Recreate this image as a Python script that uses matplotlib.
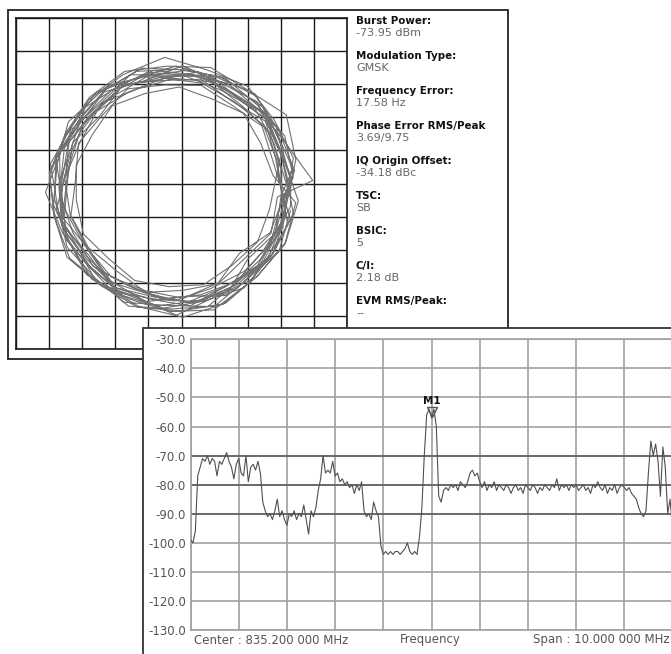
import numpy as np
import matplotlib
matplotlib.use("Agg")
import matplotlib.pyplot as plt
from matplotlib.patches import Rectangle

# ---------------- data ----------------
# measurement summary of the IQ (constellation) screen
meas_labels = ["Burst Power:", "Modulation Type:", "Frequency Error:",
               "Phase Error RMS/Peak", "IQ Origin Offset:", "TSC:", "BSIC:",
               "C/I:", "EVM RMS/Peak:"]
meas_values = ["-73.95 dBm", "GMSK", "17.58 Hz", "3.69/9.75", "-34.18 dBc",
               "SB", "5", "2.18 dB", "--"]

# IQ trace: loops around the origin (grid divisions), vertex every 20 deg
iq_center = (-0.23, -0.13)
loop_step_deg = 20
loop_angle_offsets = [0, 10, 5, 15, 3, 13, 7, 17, 2, 15, 8, 18, 4, 14, 11, 6, 16, 9]
loop_radii = [
    [3.50, 3.42, 3.55, 3.38, 3.47, 3.60, 3.41, 3.36, 3.52, 3.44, 3.58, 3.40, 3.49, 3.35, 3.53, 3.46, 3.39, 3.51],
    [3.28, 3.35, 3.22, 3.40, 3.31, 3.18, 3.36, 3.29, 3.25, 3.38, 3.21, 3.33, 3.27, 3.42, 3.24, 3.30, 3.37, 3.26],
    [3.62, 3.70, 3.55, 3.66, 3.58, 3.74, 3.61, 3.52, 3.68, 3.63, 3.57, 3.72, 3.60, 3.65, 3.54, 3.69, 3.59, 3.64],
    [3.10, 3.25, 3.05, 3.20, 3.12, 3.30, 3.08, 3.18, 2.98, 3.22, 3.15, 3.05, 3.27, 3.11, 3.19, 3.02, 3.24, 3.14],
    [4.20, 3.62, 3.48, 3.55, 3.43, 3.58, 3.50, 3.46, 3.61, 3.44, 3.52, 3.47, 3.57, 3.41, 3.53, 3.49, 3.56, 3.45],
    [3.78, 4.05, 3.70, 3.80, 3.68, 3.82, 3.74, 3.66, 3.79, 3.72, 3.85, 3.69, 3.77, 3.73, 3.81, 3.67, 3.76, 3.71],
    [3.02, 2.95, 3.08, 2.92, 3.05, 2.98, 3.10, 2.94, 3.03, 2.97, 3.07, 2.91, 3.04, 2.99, 3.06, 2.93, 3.01, 2.96],
    [3.38, 3.46, 3.33, 3.50, 3.36, 3.44, 3.31, 3.47, 3.39, 3.52, 3.35, 3.42, 3.30, 3.48, 3.37, 3.45, 3.34, 3.41],
    [3.57, 3.49, 3.64, 3.52, 3.60, 3.47, 3.66, 3.54, 3.58, 3.88, 3.63, 3.51, 3.55, 3.61, 3.48, 3.59, 3.53, 3.62],
    [3.22, 3.30, 3.18, 3.27, 3.33, 3.20, 3.28, 3.15, 3.31, 3.24, 3.19, 3.29, 3.23, 3.35, 3.17, 2.80, 3.21, 3.32],
    [3.68, 3.61, 3.72, 3.63, 3.58, 3.70, 3.64, 3.76, 3.60, 3.67, 3.55, 3.71, 3.62, 3.74, 3.88, 3.66, 3.59, 3.69],
    [3.40, 3.55, 3.35, 3.58, 3.30, 3.50, 3.62, 3.33, 3.48, 3.57, 3.28, 3.52, 3.44, 3.60, 3.36, 3.54, 3.42, 3.47],
    [3.37, 3.31, 3.42, 3.28, 3.39, 3.45, 3.32, 3.36, 3.29, 3.43, 3.34, 3.40, 3.26, 3.38, 3.33, 3.41, 3.30, 3.44],
    [3.72, 3.66, 3.79, 3.70, 3.95, 3.75, 3.70, 3.63, 3.77, 3.71, 3.80, 3.65, 3.74, 3.92, 3.82, 3.67, 3.76, 3.78],
    [3.45, 3.60, 3.32, 3.55, 3.40, 3.66, 3.38, 3.58, 3.30, 3.62, 3.42, 3.70, 3.48, 3.85, 3.52, 3.64, 3.36, 3.57],
    [3.55, 3.38, 3.62, 3.47, 3.70, 3.35, 3.58, 3.44, 3.67, 3.40, 3.61, 3.50, 3.78, 3.56, 3.73, 3.42, 3.60, 3.48],
    [3.20, 3.42, 3.15, 3.38, 3.26, 3.48, 3.12, 3.35, 3.22, 3.45, 3.18, 3.40, 3.55, 3.30, 3.62, 3.10, 3.36, 3.25],
    [3.64, 3.52, 3.75, 3.58, 3.68, 3.50, 3.72, 3.60, 3.80, 3.56, 3.69, 3.62, 3.83, 3.66, 3.78, 3.54, 3.71, 3.59],
]

# spectrum screen
center_mhz = 835.2
span_mhz = 10.0
spectrum_db = [
    -99, -100, -96, -77, -74, -71, -72, -70, -73, -71,
    -72, -77, -72, -73, -71, -69, -72, -74, -78, -73,
    -71, -76, -77, -70, -79, -74, -73, -75, -72, -76,
    -86, -89, -91, -90, -92, -89, -85, -91, -89, -92,
    -94, -90, -91, -89, -92, -90, -91, -87, -92, -97,
    -89, -91, -88, -82, -78, -70, -76, -75, -76, -72,
    -77, -76, -79, -78, -80, -79, -81, -80, -83, -80,
    -82, -79, -89, -91, -90, -92, -86, -89, -91, -101,
    -104, -103, -104, -103, -104, -103, -103, -104, -103, -102,
    -100, -103, -104, -103, -104, -98, -88, -70, -56, -54,
    -57, -54, -60, -84, -86, -82, -81, -82, -80, -81,
    -80, -82, -79, -80, -81, -79, -76, -75, -77, -76,
    -79, -81, -79, -82, -80, -81, -79, -82, -80, -81,
    -82, -80, -81, -83, -81, -80, -82, -81, -83, -80,
    -81, -82, -80, -81, -83, -81, -82, -80, -81, -82,
    -80, -81, -78, -82, -80, -81, -80, -82, -80, -81,
    -80, -82, -81, -80, -82, -81, -83, -80, -81, -79,
    -81, -82, -80, -83, -81, -82, -80, -83, -81, -80,
    -81, -82, -81, -83, -84, -85, -88, -90, -91, -89,
    -76, -65, -70, -66, -72, -84, -67, -74, -90, -85,
    -95,
]
ref_levels = [-30, -40, -50, -60, -70, -80, -90, -100, -110, -120, -130]
dark_levels = [-70, -80, -90]
marker_label = "M1"
marker_freq = 835.2
marker_db = -54.9

# ---------------- figure ----------------
W, H = 671, 654
fig = plt.figure(figsize=(W / 100, H / 100), dpi=100)
fig.patch.set_facecolor("white")


def px_box(x0, y0, x1, y1):
    return [x0 / W, 1 - y1 / H, (x1 - x0) / W, (y1 - y0) / H]


# ---- top panel (constellation) ----
fig.add_artist(Rectangle((8 / W, 1 - 359 / H), (507.5 - 8) / W, (359 - 10) / H,
                         transform=fig.transFigure, facecolor="white",
                         edgecolor="#222222", lw=1.3, zorder=0.5))

ax1 = fig.add_axes(px_box(16, 18, 347, 349), zorder=1)
ax1.set_xlim(-5, 5)
ax1.set_ylim(-5, 5)
ax1.set_xticks(np.arange(-5, 6, 1))
ax1.set_yticks(np.arange(-5, 6, 1))
ax1.tick_params(length=0, labelbottom=False, labelleft=False)
ax1.grid(True, color="#1a1a1a", lw=1.0)
ax1.set_axisbelow(True)
for s in ax1.spines.values():
    s.set_color("#1a1a1a")
    s.set_linewidth(1.2)

ang_all, rad_all = [], []
for i, (off, radii) in enumerate(zip(loop_angle_offsets, loop_radii)):
    for k, r in enumerate(radii):
        ang_all.append(np.deg2rad(off + loop_step_deg * k + 360 * i))
        rad_all.append(r)
ang_all = np.array(ang_all)
rad_all = np.array(rad_all)
ax1.plot(iq_center[0] + rad_all * np.cos(ang_all),
         iq_center[1] + rad_all * np.sin(ang_all),
         color="#727272", lw=0.8, zorder=3)

for k, (lab, val) in enumerate(zip(meas_labels, meas_values)):
    y_lab = 16 + 35 * k
    fig.text(356 / W, 1 - y_lab / H, lab, ha="left", va="top",
             fontsize=7.4, fontweight="bold", color="#111111",
             family="DejaVu Sans", zorder=2)
    fig.text(356 / W, 1 - (y_lab + 12) / H, val, ha="left", va="top",
             fontsize=8, color="#666666", family="DejaVu Sans", zorder=2)

# ---- bottom panel (spectrum) ----
fig.add_artist(Rectangle((143 / W, 1 - 700 / H), (700 - 143) / W, (700 - 328) / H,
                         transform=fig.transFigure, facecolor="white",
                         edgecolor="#333333", lw=1.3, zorder=5))

ax2 = fig.add_axes(px_box(190.5, 339.3, 672.5, 630), zorder=6)
f0 = center_mhz - span_mhz / 2
f1 = center_mhz + span_mhz / 2
freqs = np.linspace(f0, f1, len(spectrum_db))
ax2.set_xlim(f0, f1)
ax2.set_ylim(-130, -30)
ax2.set_xticks(np.linspace(f0, f1, 11))
ax2.set_yticks(ref_levels)
ax2.set_yticklabels([f"{v:.1f}" for v in ref_levels])
ax2.tick_params(length=0, labelbottom=False, labelsize=8.5,
                labelcolor="#555555", pad=3.2)
for t in ax2.get_yticklabels():
    t.set_family("DejaVu Sans")
ax2.grid(True, color="#a0a0a0", lw=1.2)
ax2.set_axisbelow(True)
for lv in dark_levels:
    ax2.axhline(lv, color="#5a5a5a", lw=1.1, zorder=1.5)
for s in ax2.spines.values():
    s.set_color("#a0a0a0")
    s.set_linewidth(1.2)

ax2.plot(freqs, spectrum_db, color="#505050", lw=0.8, zorder=3)
ax2.plot([marker_freq], [marker_db], marker="v", ms=6.5, mfc="none",
         mec="#555555", mew=1.0, zorder=4)
ax2.annotate(marker_label, xy=(marker_freq, marker_db), xytext=(0, 11),
             textcoords="offset pixels", ha="center", va="center",
             fontsize=7.5, fontweight="bold", color="#111111")

ax2.annotate(f"Center : {center_mhz:.3f} 000 MHz", xy=(0, 0),
             xycoords="axes fraction", xytext=(3, -10),
             textcoords="offset pixels", ha="left", va="center",
             fontsize=8.5, color="#555555")
ax2.annotate("Frequency", xy=(0.5, 0), xycoords="axes fraction",
             xytext=(-1, -10), textcoords="offset pixels", ha="center",
             va="center", fontsize=8.5, color="#555555")
ax2.annotate(f"Span : {span_mhz:.3f} 000 MHz", xy=(1, 0),
             xycoords="axes fraction", xytext=(-2.5, -10),
             textcoords="offset pixels", ha="right", va="center",
             fontsize=8.5, color="#555555")

fig.savefig("out.png", dpi=100, facecolor="white")
